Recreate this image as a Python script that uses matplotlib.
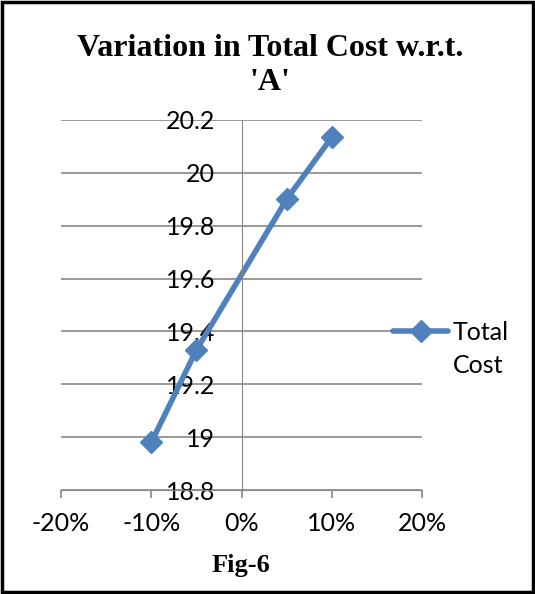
import matplotlib.pyplot as plt
from matplotlib.patches import Rectangle
from matplotlib.ticker import FuncFormatter

### Data
change = [-10, -5, 5, 10]          # % change in 'A'
total_cost = [18.98, 19.33, 19.90, 20.135]
x_ticks = [-20, -10, 0, 10, 20]
y_ticks = [18.8, 19.0, 19.2, 19.4, 19.6, 19.8, 20.0, 20.2]

line_color = '#4F81BD'
grid_color = '#878787'
label_font = ['Lato', 'DejaVu Sans']

fig = plt.figure(figsize=(5.35, 5.94), dpi=100)
ax = fig.add_axes([0.114, 0.175, 0.675, 0.623])

ax.plot(change, total_cost, color=line_color, linewidth=4, marker='D',
        markersize=11, label='Total', solid_capstyle='round')

ax.set_xlim(-20, 20)
ax.set_ylim(18.8, 20.2)
ax.set_xticks(x_ticks)
ax.set_yticks(y_ticks)
ax.xaxis.set_major_formatter(FuncFormatter(lambda v, p: '%d%%' % v))
ax.yaxis.set_major_formatter(FuncFormatter(lambda v, p: ('%.1f' % v).rstrip('0').rstrip('.')))

### Axes styling: vertical axis at 0, horizontal gridlines
for s in ['top', 'right']:
    ax.spines[s].set_visible(False)
ax.spines['left'].set_position(('data', 0))
ax.spines['left'].set_color(grid_color)
ax.spines['bottom'].set_color(grid_color)
ax.yaxis.grid(True, color=grid_color, linewidth=1.2)
ax.set_axisbelow(True)
ax.tick_params(axis='x', direction='out', length=6, width=1.2, color=grid_color,
               pad=10, labelsize=18)
ax.tick_params(axis='y', length=0, pad=19, labelsize=18)
for lab in ax.get_xticklabels() + ax.get_yticklabels():
    lab.set_family(label_font)

fig.text(0.505, 0.89, "Variation in Total Cost w.r.t.\n'A'", ha='center', va='center',
         fontsize=23, fontweight='bold', family='Liberation Serif', linespacing=1.2)
fig.text(0.45, 0.048, 'Fig-6', ha='center', va='center', fontsize=19,
         fontweight='bold', family='Liberation Serif')

### Legend: handle level with the first line of the label, like Excel does
leg = ax.legend(loc='center left', bbox_to_anchor=(0.7346, 0.441), bbox_transform=fig.transFigure,
                frameon=False, handlelength=2.2, handletextpad=0.2, borderaxespad=0,
                borderpad=0, prop={'family': label_font, 'size': 18})
fig.text(0.847, 0.372, 'Cost', ha='left', va='baseline', fontsize=18, family=label_font)

### Black frame round the whole picture
fig.patches.append(Rectangle((0.004, 0.004), 0.992, 0.992, transform=fig.transFigure,
                             fill=False, edgecolor='black', linewidth=2.5))

plt.savefig('out.png', dpi=100)
